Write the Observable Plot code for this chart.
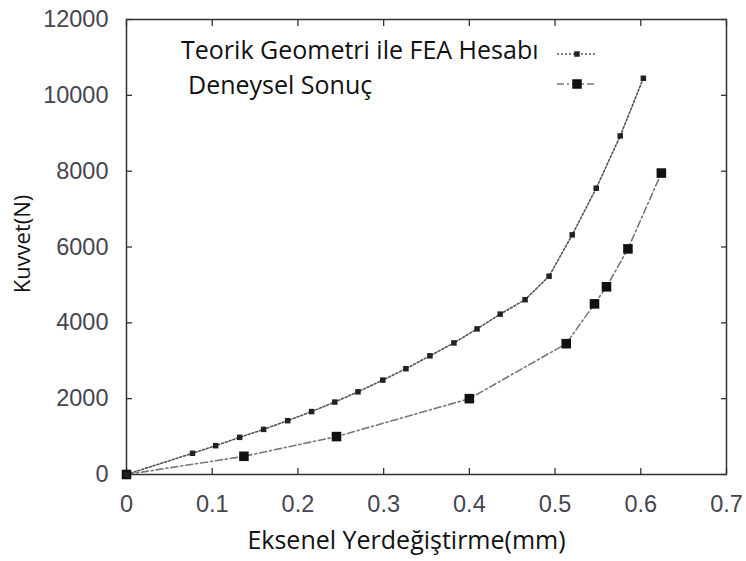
<!DOCTYPE html>
<html>
<head>
<meta charset="utf-8">
<script src="https://cdn.jsdelivr.net/npm/d3@7"></script>
<script src="https://cdn.jsdelivr.net/npm/@observablehq/plot@0.6"></script>
<style>
  html, body { margin: 0; padding: 0; background: #fff; }
  #wrap { position: relative; width: 746px; height: 561px; overflow: hidden; }
  #legend { position: absolute; left: 0; top: 0; pointer-events: none; }
  #legend text { font-family: "Open Sans", sans-serif; font-size: 25px; fill: #111; }
</style>
</head>
<body>
<div id="wrap"></div>
<script>
// Teorik Geometri ile FEA Hesabı
const feaX = [0, 0.077, 0.104, 0.132, 0.160, 0.188, 0.216, 0.243, 0.270, 0.299, 0.326, 0.354, 0.382, 0.409, 0.436, 0.465, 0.493, 0.520, 0.548, 0.576, 0.603];
const feaY = [0, 560, 760, 980, 1190, 1420, 1660, 1910, 2180, 2490, 2790, 3130, 3470, 3840, 4230, 4610, 5230, 6320, 7550, 8930, 10450];
// Deneysel Sonuç
const expX = [0, 0.137, 0.245, 0.400, 0.513, 0.546, 0.560, 0.585, 0.624];
const expY = [0, 480, 1000, 2000, 3450, 4500, 4950, 5950, 7950];

const xTicks = [0, 0.1, 0.2, 0.3, 0.4, 0.5, 0.6, 0.7];
const xTickLabels = ["0", "0.1", "0.2", "0.3", "0.4", "0.5", "0.6", "0.7"];
const yTicks = [0, 2000, 4000, 6000, 8000, 10000, 12000];

const seriesNames = ["Teorik Geometri ile FEA Hesabı", "Deneysel Sonuç"];
const xTitle = "Eksenel Yerdeğiştirme(mm)";
const yTitle = "Kuvvet(N)";

const fea = feaX.map((x, i) => ({x, y: feaY[i]}));
const exp = expX.map((x, i) => ({x, y: expY[i]}));

const tickFont = {fontFamily: "'Liberation Sans', Arial, sans-serif", fontSize: 23.5};
const titleFont = "'Open Sans', sans-serif";

const chart = Plot.plot({
  width: 746,
  height: 561,
  marginLeft: 126,
  marginRight: 20,
  marginTop: 19,
  marginBottom: 87,
  style: {background: "#fff", color: "#444", ...tickFont},
  x: {domain: [0, 0.7]},
  y: {domain: [0, 12000]},
  marks: [
    Plot.frame({stroke: "#333", strokeWidth: 1.5}),
    // inward ticks on all four sides
    Plot.axisX(xTicks, {anchor: "bottom", tickSize: -6, fill: "none", label: null, stroke: "#333", strokeWidth: 1.3}),
    Plot.axisX(xTicks, {anchor: "top", tickSize: -6, fill: "none", label: null, stroke: "#333", strokeWidth: 1.3}),
    Plot.axisY(yTicks, {anchor: "left", tickSize: -6, fill: "none", label: null, stroke: "#333", strokeWidth: 1.3}),
    Plot.axisY(yTicks, {anchor: "right", tickSize: -6, fill: "none", label: null, stroke: "#333", strokeWidth: 1.3}),
    // tick labels
    Plot.axisX(xTicks, {anchor: "bottom", tickSize: 0, tickPadding: 21, label: null, fill: "#454550",
      tickFormat: (d) => xTickLabels[xTicks.indexOf(d)], ...tickFont}),
    Plot.axisY(yTicks, {anchor: "left", tickSize: 0, tickPadding: 18, label: null, fill: "#454550",
      tickFormat: (d) => String(d), ...tickFont}),
    // axis titles
    Plot.text([xTitle], {frameAnchor: "bottom", textAnchor: "middle", lineAnchor: "bottom", dx: -20, dy: 74, text: (d) => d,
      fontFamily: titleFont, fontSize: 25, fill: "#111"}),
    Plot.text([yTitle], {frameAnchor: "left", textAnchor: "middle", lineAnchor: "middle", dx: -104, dy: -3, rotate: -90, text: (d) => d,
      fontFamily: titleFont, fontSize: 22, fill: "#111"}),
    // series
    Plot.line(exp, {x: "x", y: "y", stroke: "#777", strokeWidth: 1.6, strokeDasharray: "7,3,2,3"}),
    Plot.line(fea, {x: "x", y: "y", stroke: "#555", strokeWidth: 1.6, strokeDasharray: "2,2"}),
    Plot.dot(exp, {x: "x", y: "y", symbol: "square", r: 5.4, fill: "#111", stroke: "none"}),
    Plot.dot(fea, {x: "x", y: "y", symbol: "square", r: 3.1, fill: "#222", stroke: "none"})
  ]
});

const wrap = document.getElementById("wrap");
wrap.appendChild(chart);

// legend overlay (inside plot area, top-left)
const ns = "http://www.w3.org/2000/svg";
const leg = document.createElementNS(ns, "svg");
leg.setAttribute("id", "legend");
leg.setAttribute("width", 746);
leg.setAttribute("height", 120);
const legendRows = [
  {name: seriesNames[0], tx: 181, ty: 59, ly: 54, dash: "2,2", stroke: "#555", side: 5.5, fill: "#222"},
  {name: seriesNames[1], tx: 188, ty: 93.5, ly: 84, dash: "7,3,2,3", stroke: "#777", side: 9.5, fill: "#111"}
];
for (const r of legendRows) {
  const t = document.createElementNS(ns, "text");
  t.setAttribute("x", r.tx);
  t.setAttribute("y", r.ty);
  t.textContent = r.name;
  leg.appendChild(t);
  const l = document.createElementNS(ns, "line");
  l.setAttribute("x1", 557); l.setAttribute("x2", 596);
  l.setAttribute("y1", r.ly); l.setAttribute("y2", r.ly);
  l.setAttribute("stroke", r.stroke); l.setAttribute("stroke-width", 1.6);
  l.setAttribute("stroke-dasharray", r.dash);
  leg.appendChild(l);
  const s = document.createElementNS(ns, "rect");
  s.setAttribute("x", 577 - r.side / 2); s.setAttribute("y", r.ly - r.side / 2);
  s.setAttribute("width", r.side); s.setAttribute("height", r.side);
  s.setAttribute("fill", r.fill);
  leg.appendChild(s);
}
wrap.appendChild(leg);
</script>
</body>
</html>
